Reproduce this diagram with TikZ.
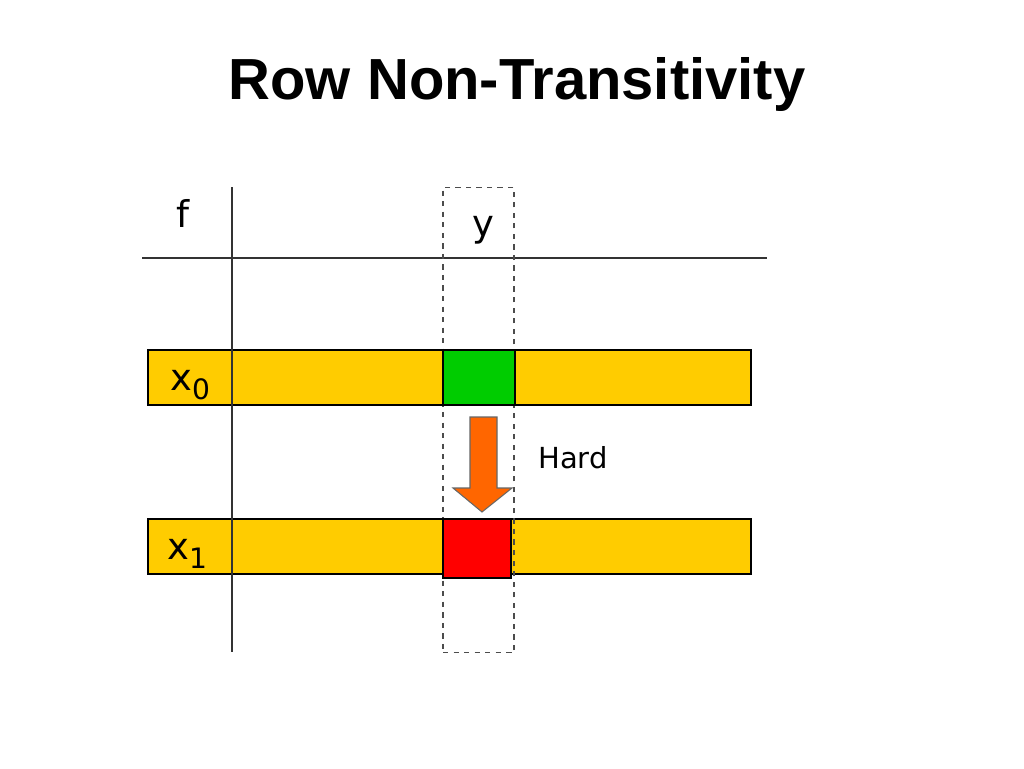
\documentclass[tikz,border=0pt]{standalone}
\usepackage{fontspec}
\setmainfont{DejaVu Sans}
\newfontfamily\titlefont{Liberation Sans}
\usetikzlibrary{positioning}

\definecolor{barYellow}{HTML}{FFCC00}
\definecolor{cellGreen}{HTML}{00CC00}
\definecolor{cellRed}{HTML}{FF0000}
\definecolor{arrowOrange}{HTML}{FF6600}

\newcommand{\rowsub}[1]{\raisebox{-5.5pt}{\fontsize{16}{18}\selectfont #1}}

\tikzset{
    rowbar/.style={draw=black, line width=0.7pt, fill=barYellow, minimum width=12.06cm, minimum height=1.1cm, inner sep=0pt},
    cell/.style={draw=black, line width=0.7pt, inner sep=0pt},
    lbl/.style={font=\fontsize{21}{24}\selectfont, inner sep=0pt}
}

\begin{document}
\begin{tikzpicture}[x=0.02cm, y=-0.02cm]

        \useasboundingbox (0,0) rectangle (1024,768);

        % Titolo
        \node[font=\titlefont\bfseries\fontsize{33}{38}\selectfont] (title) at (517,85) {Row Non-Transitivity};

        % Righe colorate
        \node[rowbar] (row0) at (449.5,377.5) {};
        \node[rowbar] (row1) at (449.5,546.5) {};

        % Assi della tabella
        \coordinate (vtop) at (232,187);
        \coordinate (vbot) at (232,652);
        \coordinate (hleft) at (142,258);
        \coordinate (hright) at (767,258);
        \draw[line width=0.7pt, black!80] (vtop) -- (vbot);
        \draw[line width=0.7pt, black!80] (hleft) -- (hright);

        % Colonna y (tratteggiata)
        \node[draw=black!70, dashed, line width=0.6pt, minimum width=1.42cm, minimum height=9.32cm, inner sep=0pt] (ycol) at (478.5,420) {};

        % Celle
        \node[cell, fill=cellGreen, minimum width=1.44cm, minimum height=1.1cm] (g0) at (479,377.5) {};
        \node[cell, fill=cellRed, minimum width=1.36cm, minimum height=1.18cm] (r1) at (477,548.5) {};

        % Freccia
        \draw[fill=arrowOrange, draw=black!60, line width=0.6pt]
            (470,417) -- (497,417) -- (497,488) -- (512,488) -- (482,512) -- (453,488) -- (470,488) -- cycle;

        % Etichette
        \node[lbl] (f) at (183,213) {f};
        \node[lbl] (y) at (483,230) {y};
        \node[lbl, anchor=base west] (x0) at (170,390) {x\rowsub{0}};
        \node[lbl, anchor=base west] (x1) at (167,559) {x\rowsub{1}};
        \node[font=\fontsize{16.5}{20}\selectfont, inner sep=0pt] (hard) at (573,458) {Hard};

\end{tikzpicture}
\end{document}
